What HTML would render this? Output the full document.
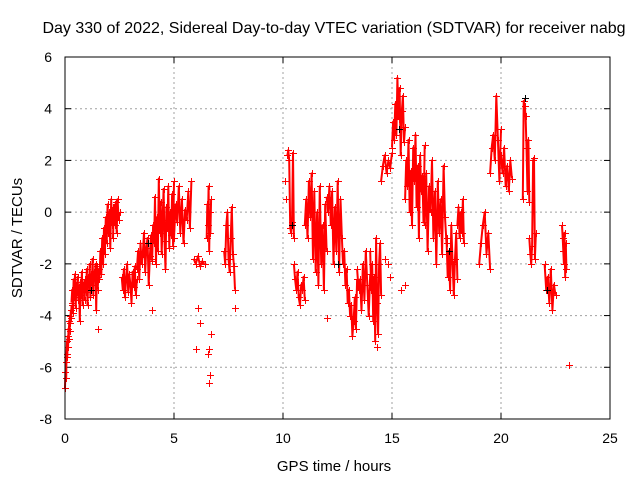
<!DOCTYPE html>
<html><head><meta charset="utf-8">
<style>
html,body{margin:0;padding:0;background:#fff;}
svg{display:block;font-family:"Liberation Sans",sans-serif;}
</style></head>
<body>
<svg id="chart" width="640" height="480" viewBox="0 0 640 480">
<rect width="640" height="480" fill="#fff"/>
<text x="334" y="33" font-size="16" text-anchor="middle" fill="#000">Day 330 of 2022, Sidereal Day-to-day VTEC variation (SDTVAR) for receiver nabg</text>
<text transform="translate(22,238) rotate(-90)" font-size="15" text-anchor="middle">SDTVAR / TECUs</text>
<text x="334" y="471" font-size="15" text-anchor="middle">GPS time / hours</text>
<g id="grid"></g>
<g id="ticks"></g>
<g id="traces"></g>
<g id="marks"></g>
<rect x="65" y="57" width="545" height="362" fill="none" stroke="#000" stroke-width="1"/>
</svg>
<script>
const xTicks=[0,5,10,15,20,25];
const yTicks=[-8,-6,-4,-2,0,2,4,6];
// red segments: start hour, end hour, values (TECU)
const segStart=[0,0.3,0.9,1.5,2.2,2.6,3.3,4.0,5.0,5.9,6.5,7.3,10.2,10.5,11.0,12.0,12.7,13.4,14.0,14.5,15.0,15.6,16.5,17.5,18.0,19.0,19.5,20.0,21.0,21.3,22.0,22.8];
const segEnd=[0.3,0.9,1.5,2.2,2.5,3.3,4.0,5.0,5.8,6.4,6.7,7.8,10.5,11.0,12.0,12.7,13.4,14.0,14.5,15.0,15.6,16.5,17.5,18.0,18.3,19.5,20.0,20.5,21.3,21.6,22.5,23.0];
const segVals=[
[-6.8,-6.2,-5.8,-6.4,-5.5,-5,-5.6,-4.8,-5.2,-4.5,-4.9,-4.2,-4.6,-4,-4.3,-3.8,-4.1,-3.6],
[-3.5,-3,-3.9,-2.6,-3.3,-2.4,-3.7,-2.8,-3.1,-2.5,-3.4,-2.9,-4.2,-2.7,-3.2,-2.3,-3.6,-2.8,-3,-2.6],
[-3.4,-2.7,-3.1,-2.2,-3.6,-2.5,-2.9,-2,-3.3,-2.4,-2.8,-1.8,-3.2,-2.3,-2.6,-2,-3.8,-2.1,-2.5],
[-3,-2.2,-2.6,-1.5,-2.4,-1,-2,-0.6,-1.6,-0.2,-1.2,0.3,-0.8,0,-1.4,0.5,-0.5,0.2],
[-1,0.2,-0.5,0.4,-0.8,0.5,-0.3,0],
[-2.5,-3,-2.2,-3.3,-2.6,-2,-3.1,-2.4,-2.8,-3.5,-2.3,-2.9,-2.1,-3.2,-2.6],
[-2.2,-1.5,-2.6,-1.2,-2,-1.6,-0.8,-2.3,-1.4,-1,-2.8,-1.7,-0.9,-1.9],
[-1.8,-0.5,-1.2,0.6,-2,-0.2,-1.5,1.3,-0.8,0.4,-1.6,-0.3,0.9,-1.1,-2.2,0.2,-0.6,1,-1.4,0,-0.9,0.7,-1.3,1.2],
[-1,0.3,-0.4,1,-0.8,0.5,-1.2,0.1,-0.3,0.8,-0.6,1.2],
[-1.8,-2,-1.7,-2.1,-1.9,-2],
[-1,0.3,-0.5,1,-1.5,0,-0.8,0.5],
[-1.5,-2,-0.5,0,-1.8,-2.3,-1,0.2,-1.6,-2.1,-3],
[2.2,2.4,2,-0.6,-0.8,-0.4,2.3,-1],
[-2,-2.6,-3,-2.3,-3.3,-3.6,-2.8,-3,-2.5,-3.4],
[-0.5,0.5,-1,1.2,-0.2,1.5,-1.8,0.8,-2.3,0,-2.8,1,-2,-0.5,-3,0.3,-1.5],
[0.6,0,1,-0.5,0.8,-2,0.2,-1.5,1.2,-2.3,0.5,-1],
[-1,-2,-1.5,-2.8,-2.2,-3.5,-3,-4,-3.6,-4.8,-4.2,-3.3,-4.5,-2.6],
[-2.2,-3,-2.6,-3.8,-2,-3.4,-1.5,-2.8,-4,-2.4],
[-1.5,-3,-2,-4.2,-2.5,-5,-1,-3.5,-4.7,-2,-1.2,-3.2],
[1.2,1.8,2.2,1.5,2,1.7,2.3],
[2.5,3.5,2.8,4.2,3,5.2,3.6,4.8,2.2,3.9,4.5,2.7,3.3],
[0.5,2,1,2.8,0,1.6,-0.5,2.5,1.2,3,0.2,1.8,-1,2.2,0.8,1.4,-0.4,2.6],
[-0.5,1.5,-1.5,1,0,2,-1,0.8,-2,1.2,-0.8,0.5,-1.6,1.8,-0.2,-1.2],
[-1,-2.5,-1.5,-3,-0.5,-2,-3.2,-1.8,-0.8,-2.6],
[-0.5,0.2,-1,0,-0.8,0.5,-1.2],
[-2,-1.2,-0.5,0,-1.6,-0.8,-2.2],
[1.5,2.5,3,2,4.5,2.8,1.2,3.2],
[2.2,1.5,2.5,1,1.8,0.8,2,1.3],
[0.5,4.3,4.1,3.7,2.5,0.8,2.8,0.4],
[-1,-1.6,-2,-1.3,2,2.1,-1.8,-0.8],
[-2,-3,-2.5,-3.5,-2.2,-3.8,-2.8,-3.2],
[-0.5,-1,-1.5,-2,-0.8,-2.5,-1.2,-2.2]
];
// isolated red points (hours, TECU)
const extraT=[10.1,10.15,23.1,14.3,1.5,4.0,6.1,6.2,6.0,6.6,6.65,6.6,6.7,6.55,7.8,12.0,14.8,14.9,14.7,15.4,15.6];
const extraV=[1.2,0.5,-5.9,-5.2,-4.5,-3.8,-3.7,-4.3,-5.3,-5.3,-6.3,-6.6,-4.7,-5.5,-3.7,-4.1,-2.0,-2.5,-1.8,-3.0,-2.8];
// black series points
const blackT=[1.2,3.8,10.4,12.5,15.3,17.6,21.1,22.1];
const blackV=[-3,-1.2,-0.5,-2,3.2,-1.5,4.4,-3];

const X=t=>65+t*(545/25);
const Y=v=>57+(6-v)*(362/14);
const NS="http://www.w3.org/2000/svg";
const grid=document.getElementById('grid'),ticks=document.getElementById('ticks'),marks=document.getElementById('marks'),traces=document.getElementById('traces');
function mk(tag,attrs,parent){const e=document.createElementNS(NS,tag);for(const k in attrs)e.setAttribute(k,attrs[k]);parent.appendChild(e);return e;}
xTicks.forEach(t=>{
  const x=X(t);
  if(t>0&&t<25){const g=mk('line',{x1:x,x2:x,y1:57,y2:419,stroke:'#a0a0a0','stroke-dasharray':'2,3'},grid);
  
  }
  mk('line',{x1:x,x2:x,y1:419,y2:413,stroke:'#000'},ticks);
  mk('line',{x1:x,x2:x,y1:57,y2:63,stroke:'#000'},ticks);
  const l=mk('text',{x:x,y:443,'font-size':14,'text-anchor':'middle'},ticks);l.textContent=t;
  
  
});
yTicks.forEach(v=>{
  const y=Y(v);
  if(v>-8&&v<6){const g=mk('line',{x1:65,x2:610,y1:y,y2:y,stroke:'#a0a0a0','stroke-dasharray':'2,3'},grid);
  
  }
  mk('line',{x1:65,x2:71,y1:y,y2:y,stroke:'#000'},ticks);
  mk('line',{x1:610,x2:604,y1:y,y2:y,stroke:'#000'},ticks);
  const l=mk('text',{x:52,y:y+5,'font-size':14,'text-anchor':'end'},ticks);l.textContent=v;
  
  
});
function plus(t,v,color){
  const x=Math.round(X(t))+0.5,y=Math.round(Y(v))+0.5;
  const p=mk('path',{d:`M${x-3.5} ${y}h7M${x} ${y-3.5}v7`,stroke:color,'stroke-width':1,fill:'none'},marks);
  
  
}
segVals.forEach((vals,i)=>{
  const n=vals.length;
  const pts=[];
  vals.forEach((v,j)=>{
    const t=segStart[i]+(segEnd[i]-segStart[i])*(n>1?j/(n-1):0);
    pts.push(X(t).toFixed(1)+','+Y(v).toFixed(1));
    plus(t,v,'#f00');
  });
  const pl=mk('polyline',{points:pts.join(' '),fill:'none',stroke:'#f00','stroke-width':2,'stroke-linejoin':'round'},traces);
  
  
});
extraT.forEach((t,i)=>plus(t,extraV[i],'#f00'));
blackT.forEach((t,i)=>plus(t,blackV[i],'#000'));
</script>
</body></html>
